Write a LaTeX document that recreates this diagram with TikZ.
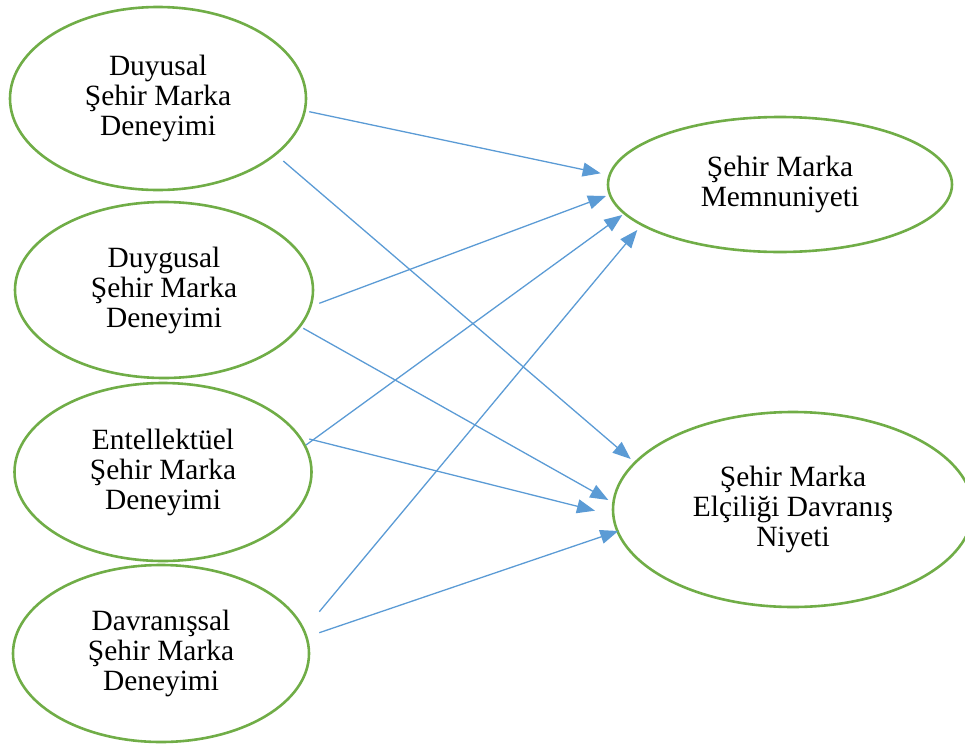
\documentclass[tikz,border=0pt]{standalone}
\usepackage{fontspec}
\setmainfont{Liberation Serif}
\usetikzlibrary{shapes.geometric,arrows.meta,calc}
\definecolor{elgreen}{HTML}{70AD47}
\definecolor{arblue}{HTML}{5B9BD5}
\begin{document}
\begin{tikzpicture}[x=0.5pt,y=-0.5pt,
  oval/.style={ellipse,draw=elgreen,line width=1.3pt,inner sep=0pt,align=center,
    font=\fontsize{14.7pt}{15pt}\selectfont},
  link/.style={draw=arblue,line width=0.65pt,-{Triangle[length=9pt,width=7pt]}}]
\useasboundingbox (0,0) rectangle (965,745);
\node[oval,minimum width=148pt,minimum height=91.5pt] (d1) at (158,98.5) {Duyusal\\Şehir Marka\\Deneyimi};
\node[oval,minimum width=149pt,minimum height=88pt] (d2) at (164,290) {Duygusal\\Şehir Marka\\Deneyimi};
\node[oval,minimum width=148.5pt,minimum height=89pt] (d3) at (163,472) {Entellektüel\\Şehir Marka\\Deneyimi};
\node[oval,minimum width=148pt,minimum height=88.5pt] (d4) at (161,653.5) {Davranışsal\\Şehir Marka\\Deneyimi};
\node[oval,minimum width=172pt,minimum height=67.5pt] (m) at (780,184.5) {Şehir Marka\\Memnuniyeti};
\node[oval,minimum width=180pt,minimum height=97.5pt] (n) at (793,509.5) {Şehir Marka\\Elçiliği Davranış\\Niyeti};
\draw[link] ($(d1)+(151.3,13.2)$) -- ($(m)+(-179.3,-11.2)$);
\draw[link] ($(d1)+(125.3,62.5)$) -- ($(n)+(-162.3,-50.5)$);
\draw[link] ($(d2)+(155.3,13.3)$) -- ($(m)+(-174,11.5)$);
\draw[link] ($(d2)+(139.3,38.3)$) -- ($(n)+(-184.7,-9.5)$);
\draw[link] ($(d3)+(143,-27)$) -- ($(m)+(-157.7,30.5)$);
\draw[link] ($(d3)+(146.3,-33)$) -- ($(n)+(-198,1.2)$);
\draw[link] ($(d4)+(158.3,-41.8)$) -- ($(m)+(-142.7,45.5)$);
\draw[link] ($(d4)+(158.3,-20.8)$) -- ($(n)+(-174.7,21.5)$);
\end{tikzpicture}
\end{document}
